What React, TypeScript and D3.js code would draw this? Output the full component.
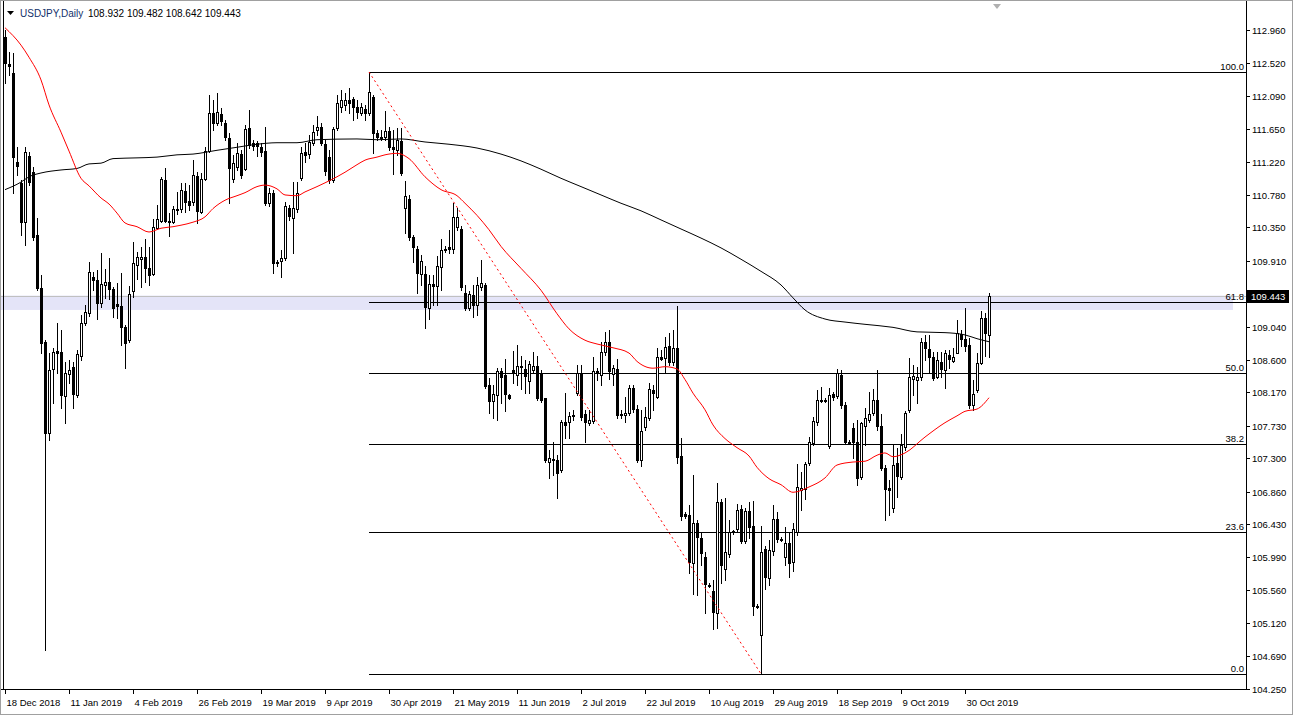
import React from "react";
import * as d3 from "d3";

// ---- Data (USDJPY daily) ----
const opens = [112.87,112.51,112.39,111.22,110.94,110.42,111.30,111.08,110.25,109.55,
108.84,107.63,108.48,108.72,108.70,108.12,108.41,108.51,108.14,108.65,
109.09,109.22,109.70,109.66,109.35,109.59,109.63,109.54,109.34,109.31,
109.04,108.86,109.51,109.85,109.93,109.96,109.81,109.74,110.34,110.44,
110.98,110.44,110.42,110.59,110.59,110.83,110.70,110.69,111.03,110.56,
110.99,111.36,111.86,111.73,111.85,111.73,111.53,110.99,111.15,111.32,
111.12,111.66,111.47,111.47,111.41,111.36,110.67,110.81,109.89,109.91,
109.95,110.61,110.48,110.59,111.00,111.35,111.32,111.47,111.64,111.68,
111.45,111.28,110.98,111.66,111.94,111.97,112.04,112.05,111.94,111.86,
111.92,111.86,112.08,111.60,111.55,111.55,111.63,111.41,111.37,111.49,
110.61,110.72,110.22,110.07,109.74,109.74,109.29,109.60,109.58,109.83,
110.05,110.09,110.07,110.36,110.33,109.48,109.29,109.46,109.33,109.56,
109.59,108.27,108.06,108.14,108.45,108.40,108.14,108.47,108.40,108.52,
108.48,108.32,108.47,108.52,108.43,108.10,107.25,107.29,107.28,107.15,
107.78,107.78,107.86,108.16,108.43,107.88,107.77,107.79,108.44,108.40,
108.70,108.84,108.41,108.48,107.88,107.87,107.90,108.23,107.95,107.28,
107.71,107.83,108.20,108.11,108.64,108.62,108.78,108.57,108.76,107.33,
106.56,106.55,105.91,106.44,106.25,105.99,105.62,105.55,105.25,106.72,
105.84,106.03,106.33,106.37,106.63,106.21,106.60,106.41,105.35,104.96,
106.10,105.72,106.07,106.50,106.23,105.99,106.18,105.93,106.33,106.88,
106.89,107.24,107.50,107.78,108.06,108.07,107.46,108.15,108.12,108.40,
108.00,107.52,107.70,107.52,107.05,107.73,107.81,107.90,108.07,107.73,
107.17,106.91,106.64,107.24,107.05,107.45,107.94,108.35,108.33,108.37,
108.84,108.74,108.64,108.37,108.57,108.47,108.66,108.59,108.69,108.94,
108.88,108.80,108.00,108.20,108.56,109.15,108.932];

const highs = [112.96,112.67,112.66,111.41,110.98,111.41,111.35,111.15,110.48,109.72,
108.86,108.69,108.76,109.09,109.00,108.57,108.60,108.57,108.73,109.19,
109.33,109.89,109.76,109.79,110.01,109.80,109.95,109.56,109.62,109.75,
109.06,109.58,110.16,110.03,110.09,110.20,110.09,110.46,110.65,111.02,
111.14,110.54,110.63,110.82,110.94,110.94,110.91,111.24,111.08,111.07,
111.41,112.10,112.04,112.13,111.93,111.77,111.60,111.31,111.47,111.37,
111.70,111.90,111.51,111.49,111.47,111.68,110.87,110.85,109.92,110.05,
110.69,110.65,110.95,110.95,111.41,111.47,111.57,111.70,111.82,111.73,
111.51,111.37,111.68,112.10,112.17,112.13,112.19,112.07,112.04,112.00,
111.97,112.405,112.10,111.64,111.64,111.89,111.68,111.64,111.66,111.66,
110.96,110.78,110.25,110.11,109.99,109.84,109.72,109.72,109.97,110.20,
110.11,110.32,110.67,110.61,110.37,109.59,109.51,109.59,109.70,109.92,
109.62,108.36,108.27,108.49,108.49,108.61,108.15,108.72,108.80,108.65,
108.60,108.59,108.70,108.65,108.47,108.10,107.41,107.52,107.34,107.81,
108.16,107.91,107.94,108.53,108.53,107.94,107.94,108.64,108.49,108.84,
108.97,109.00,108.53,108.61,107.94,108.11,108.27,108.27,108.00,107.94,
107.98,108.30,108.27,108.76,108.73,108.90,108.96,109.00,109.31,107.57,
106.59,106.68,107.08,106.48,106.31,106.06,105.65,105.69,106.97,106.76,
106.78,106.48,106.35,106.70,106.68,106.64,106.72,106.73,105.37,106.41,
106.14,106.22,106.68,106.59,106.26,106.39,106.31,106.44,107.22,107.12,
107.25,107.58,107.85,108.20,108.24,108.10,108.23,108.18,108.48,108.47,
108.04,107.54,107.77,107.81,107.78,107.96,108.17,108.21,108.47,107.88,
107.21,107.01,107.48,107.44,107.62,107.92,108.62,108.53,108.51,108.89,
108.93,108.93,108.70,108.70,108.70,108.73,108.73,108.76,109.13,109.00,
109.29,108.89,108.33,108.69,109.25,109.22,109.482];

const lows = [112.26,112.37,110.81,111.04,110.25,110.12,110.91,110.19,109.52,108.69,
104.77,107.54,108.03,108.43,107.96,107.77,108.30,107.96,108.11,108.60,
109.06,109.18,109.52,109.14,109.30,109.42,109.40,109.17,109.15,108.80,
108.49,108.84,109.43,109.67,109.56,109.63,109.59,109.72,110.33,110.42,
110.42,110.24,110.41,110.53,110.56,110.56,110.58,110.65,110.41,110.54,
110.98,111.35,111.64,111.70,111.70,111.51,110.67,110.95,111.11,111.00,
111.11,111.40,111.37,111.30,111.30,110.65,110.63,109.75,109.84,109.70,
109.92,110.45,110.01,110.56,110.98,111.22,111.27,111.44,111.57,111.44,
111.04,110.94,110.95,111.64,111.88,111.90,111.86,111.77,111.80,111.84,
111.77,111.84,111.33,111.51,111.51,111.51,111.37,111.06,111.31,111.04,
110.28,110.19,109.89,109.48,109.59,109.02,109.14,109.33,109.33,109.52,
110.03,110.01,110.01,110.32,109.52,109.26,109.26,109.17,109.19,109.52,
108.23,107.90,107.83,107.81,108.03,107.93,108.08,108.30,108.27,108.21,
108.16,108.16,108.44,108.07,108.04,107.25,107.04,107.08,106.77,107.12,
107.57,107.57,107.81,108.14,107.81,107.51,107.74,107.77,108.33,108.27,
108.66,108.35,108.27,107.83,107.83,107.78,107.87,107.91,107.25,107.20,
107.67,107.81,107.94,108.10,108.60,108.44,108.53,108.53,107.24,106.48,
106.51,105.78,105.51,105.49,105.89,105.26,105.60,105.04,105.06,105.65,
105.69,105.99,106.30,106.33,106.18,106.18,106.25,105.23,105.32,104.45,
105.57,105.63,106.02,106.19,106.21,105.89,105.73,105.81,106.29,106.62,
106.76,107.21,107.47,107.74,108.04,108.04,107.44,108.07,108.10,107.96,
107.49,107.49,107.30,106.95,107.03,107.48,107.78,107.87,107.67,107.15,
106.48,106.55,106.59,106.79,107.03,107.41,107.91,108.14,108.03,108.33,
108.60,108.44,108.33,108.36,108.37,108.23,108.49,108.57,108.69,108.78,
108.72,107.96,107.94,108.17,108.55,108.65,108.642];

const closes = [112.52,112.49,111.28,111.16,110.42,111.35,110.95,110.22,109.55,108.82,
107.63,108.47,108.70,108.69,108.14,108.43,108.47,108.15,108.68,109.09,
109.23,109.76,109.66,109.35,109.60,109.63,109.54,109.29,109.31,109.04,
108.82,109.47,109.88,109.96,109.96,109.81,109.72,110.36,110.46,110.99,
110.44,110.42,110.59,110.60,110.85,110.69,110.65,111.04,110.57,110.99,
111.36,111.86,111.73,111.88,111.76,111.55,111.14,111.20,111.34,111.04,
111.65,111.44,111.43,111.43,111.35,110.67,110.81,109.88,109.88,109.95,
110.63,110.50,110.61,110.81,111.34,111.31,111.48,111.61,111.68,111.47,
111.10,110.98,111.65,112.00,112.04,112.04,112.00,111.94,111.88,111.94,
111.86,112.14,111.60,111.55,111.53,111.63,111.41,111.39,111.51,111.07,
110.77,110.22,110.09,109.75,109.91,109.30,109.60,109.58,109.84,110.05,
110.07,110.07,110.49,110.49,109.56,109.29,109.47,109.33,109.59,109.62,
108.26,108.06,108.15,108.45,108.37,108.15,108.10,108.43,108.52,108.51,
108.39,108.55,108.52,108.10,108.07,107.28,107.30,107.28,107.11,107.78,
107.74,107.86,107.87,108.43,107.85,107.78,107.81,108.45,108.45,108.70,
108.84,108.45,108.49,107.87,107.87,107.90,108.23,107.95,107.28,107.66,
107.85,108.22,108.16,108.64,108.61,108.77,108.57,108.76,107.32,106.54,
106.54,105.93,106.44,106.26,106.05,105.64,105.61,105.27,106.72,105.89,
106.06,106.33,106.34,106.62,106.21,106.60,106.39,105.35,105.33,106.06,
105.73,106.09,106.50,106.23,106.22,106.18,105.92,106.37,106.92,106.91,
107.22,107.52,107.79,108.07,108.07,108.06,108.14,108.11,108.43,108.00,
107.52,107.50,107.52,107.04,107.77,107.83,107.88,108.07,107.73,107.17,
106.89,106.88,107.21,107.07,107.47,107.90,108.37,108.39,108.37,108.84,
108.76,108.64,108.36,108.60,108.48,108.69,108.61,108.64,108.96,108.88,
108.78,108.00,108.15,108.56,109.15,108.95,109.443];

// Moving averages (bar index, price)
const redMaBars = [0,4,6,9,11,14,16,19,21,24,26,28,30,33,36,39,42,44,47,50,52,55,58,60,63,65,68,70,73,75,78,80,83,85,88,90,93,95,98,101,105,109,113,115,118,121,124,129,134,138,141,145,148,152,156,158,162,165,168,170,172,175,177,180,183,186,188,191,194,197,201,205,208,212,215,218,220,222,225,230,235,238,240,243,246];
const redMaVals = [112.99,112.76,112.60,112.30,111.97,111.61,111.36,111.00,110.90,110.74,110.66,110.54,110.41,110.36,110.29,110.34,110.36,110.38,110.42,110.49,110.60,110.71,110.77,110.81,110.89,110.91,110.86,110.78,110.77,110.82,110.89,110.94,111.02,111.08,111.18,111.24,111.28,111.31,111.33,111.26,111.02,110.85,110.77,110.67,110.51,110.32,110.10,109.81,109.52,109.21,109.01,108.86,108.81,108.76,108.69,108.58,108.49,108.51,108.48,108.34,108.16,107.94,107.74,107.56,107.44,107.33,107.18,107.03,106.95,106.85,106.92,107.04,107.21,107.25,107.26,107.34,107.37,107.32,107.37,107.58,107.77,107.86,107.92,107.95,108.10];

const blackMaBars = [0,4,6,9,14,18,21,24,27,33,38,43,47,53,58,63,68,73,78,88,93,99,105,111,118,124,129,134,139,144,149,154,159,164,169,174,179,184,189,194,197,200,205,210,215,222,228,235,240,243,246];
const blackMaVals = [110.85,110.95,111.02,111.07,111.11,111.13,111.19,111.20,111.26,111.27,111.28,111.31,111.32,111.37,111.41,111.45,111.47,111.47,111.51,111.52,111.51,111.52,111.48,111.45,111.40,111.32,111.23,111.12,111.00,110.89,110.78,110.67,110.57,110.45,110.33,110.21,110.08,109.93,109.77,109.59,109.42,109.26,109.14,109.10,109.07,109.03,108.97,108.96,108.93,108.88,108.84];

// Fibonacci retracement object
const fibLevels = [100.0, 61.8, 50.0, 38.2, 23.6, 0.0];
const fibLabels = ["100.0", "61.8", "50.0", "38.2", "23.6", "0.0"];
const fibHigh = 112.405;
const fibLow = 104.45;
const fibHighBar = 91;
const fibLowBar = 189;

// Rectangle zone
const zoneTop = 109.45;
const zoneBottom = 109.26;
const zoneEndBar = 307;

// Axis labels
const dateLabels = ["18 Dec 2018","11 Jan 2019","4 Feb 2019","26 Feb 2019","19 Mar 2019","9 Apr 2019","30 Apr 2019","21 May 2019","11 Jun 2019","2 Jul 2019","22 Jul 2019","10 Aug 2019","29 Aug 2019","18 Sep 2019","9 Oct 2019","30 Oct 2019"];
const dateLabelBars = [0,16,32,48,64,80,96,112,128,144,160,176,192,208,224,240];
const priceTicks = [112.96,112.52,112.09,111.65,111.22,110.78,110.35,109.91,109.47,109.04,108.60,108.17,107.73,107.30,106.86,106.43,105.99,105.56,105.12,104.69,104.25];

const symbol = "USDJPY,Daily";
const lastBar = { o: 108.932, h: 109.482, l: 108.642, c: 109.443 };

const FONT = "'Liberation Sans', Arial, sans-serif";

export default function App() {
  const W = 1293, H = 715;
  const plotRight = 1246, plotBottom = 689;
  const x = d3.scaleLinear().domain([0, 246]).range([5, 989]);
  const y = d3.scaleLinear().domain([104.25, 112.96]).range([689, 30]);

  const redLine = d3.line<number>()
    .x((_, k) => x(redMaBars[k]))
    .y((d) => y(d))
    .curve(d3.curveMonotoneX)(redMaVals) || "";
  const blackLine = d3.line<number>()
    .x((_, k) => x(blackMaBars[k]))
    .y((d) => y(d))
    .curve(d3.curveMonotoneX)(blackMaVals) || "";

  const fibPrice = (lv: number) => fibLow + (fibHigh - fibLow) * lv / 100;
  const fibX0 = x(fibHighBar);
  const lastY = Math.round(y(lastBar.c));

  const candles = closes.map((c, i) => {
    const o = opens[i], h = highs[i], l = lows[i];
    const cx = Math.round(x(i));
    const yH = Math.round(y(h)), yL = Math.round(y(l));
    const yO = Math.round(y(o)), yC = Math.round(y(c));
    const top = Math.min(yO, yC), bot = Math.max(yO, yC);
    const bull = c > o;
    return (
      <g key={i}>
        <rect x={cx} y={yH} width={1} height={Math.max(1, yL - yH + 1)} fill="#000" />
        {bull ? (
          <rect x={cx - 0.5} y={top + 0.5} width={2} height={Math.max(1, bot - top)} fill="#fff" stroke="#000" strokeWidth={1} />
        ) : (
          <rect x={cx - 1} y={top} width={3} height={bot - top + 1} fill="#000" />
        )}
      </g>
    );
  });

  return (
    <svg width={W} height={H} style={{ position: "absolute", left: 0, top: 0, background: "#fff" }} fontFamily={FONT}>
      <rect x={0} y={0} width={W} height={H} fill="#fff" />
      {/* zone rectangle */}
      <rect x={0} y={y(zoneTop)} width={x(zoneEndBar)} height={y(zoneBottom) - y(zoneTop)} fill="#e4e4f8" />
      {/* current price line */}
      <line x1={0} x2={plotRight} y1={lastY + 0.5} y2={lastY + 0.5} stroke="#c0c0c0" strokeWidth={1} />
      {/* fib levels */}
      {fibLevels.map((lv, k) => {
        const yy = Math.round(y(fibPrice(lv))) + 0.5;
        return (
          <g key={"fib" + k}>
            <line x1={fibX0} x2={plotRight} y1={yy} y2={yy} stroke="#000" strokeWidth={1} />
            <text x={plotRight - 2} y={yy - 3} fontSize={9.5} textAnchor="end" fill="#000">{fibLabels[k]}</text>
          </g>
        );
      })}
      {/* candles */}
      {candles}
      {/* moving averages */}
      <path d={blackLine} fill="none" stroke="#000" strokeWidth={1} />
      <path d={redLine} fill="none" stroke="#ff0000" strokeWidth={1} />
      {/* fib diagonal */}
      <line x1={x(fibHighBar)} y1={y(fibHigh)} x2={x(fibLowBar)} y2={y(fibLow)} stroke="#ff0000" strokeWidth={1} strokeDasharray="2 3" />
      {/* left border */}
      <line x1={3.5} x2={3.5} y1={0} y2={plotBottom} stroke="#000" strokeWidth={1} />
      {/* axes */}
      <line x1={plotRight + 0.5} x2={plotRight + 0.5} y1={0} y2={plotBottom + 1} stroke="#000" strokeWidth={1} />
      <line x1={0} x2={plotRight + 1} y1={plotBottom + 0.5} y2={plotBottom + 0.5} stroke="#000" strokeWidth={1} />
      {priceTicks.map((p, k) => {
        const yy = Math.round(y(p)) + 0.5;
        return (
          <g key={"pt" + k}>
            <line x1={plotRight} x2={plotRight + 4} y1={yy} y2={yy} stroke="#000" />
            <text x={1252} y={yy + 3.5} fontSize={9.5} fill="#000">{p.toFixed(3)}</text>
          </g>
        );
      })}
      {dateLabels.map((t, k) => {
        const xx = Math.round(x(dateLabelBars[k])) + 0.5;
        return (
          <g key={"dl" + k}>
            <line x1={xx} x2={xx} y1={plotBottom} y2={plotBottom + 5} stroke="#000" />
            <text x={xx + 1} y={706} fontSize={9.5} fill="#000">{t}</text>
          </g>
        );
      })}
      {/* current price label */}
      <rect x={1247} y={lastY - 6} width={42} height={13} fill="#000" />
      <text x={1251} y={lastY + 4} fontSize={9.5} fill="#fff">{lastBar.c.toFixed(3)}</text>
      {/* title */}
      <path d="M7,11 L14,11 L10.5,15 Z" fill="#000" />
      <text x={20} y={17} fontSize={10} fill="#13306a">{symbol}</text>
      <text x={88} y={17} fontSize={10} fill="#000">{[lastBar.o, lastBar.h, lastBar.l, lastBar.c].map((v) => v.toFixed(3)).join(" ")}</text>
      {/* chart shift marker */}
      <path d="M993,4 L1001,4 L997,9 Z" fill="#b0b0b0" />
      {/* window frame */}
      <rect x={0.5} y={0.5} width={W - 1} height={H - 1} fill="none" stroke="#a0a0a0" />
    </svg>
  );
}
